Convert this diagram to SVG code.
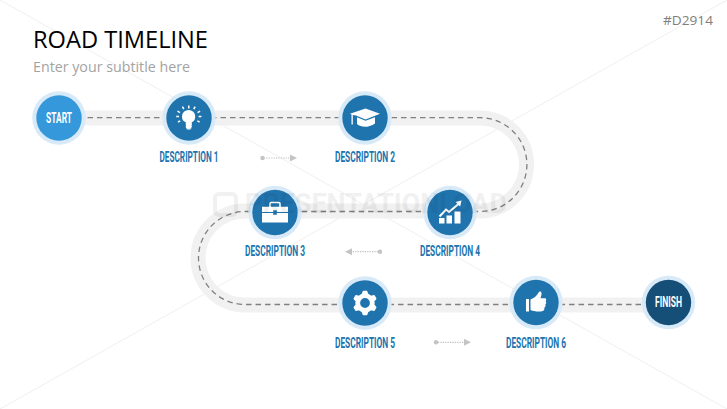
<svg xmlns="http://www.w3.org/2000/svg" width="727" height="409" viewBox="0 0 727 409">
<defs>
<style>
.road{fill:none;stroke:#f1f1f1;stroke-width:15}
.dash{fill:none;stroke:#808080;stroke-width:1.3;stroke-dasharray:5.5 4}
.dots{fill:none;stroke:#bdbdbd;stroke-width:1.2;stroke-dasharray:1.2 1.2}
.ah{fill:#c4c4c4}
.halo{fill:#d8eaf8}
.blue{fill:#2074ae}
.lbl{font-family:"Roboto","Liberation Sans",sans-serif;font-weight:700;font-size:15px;fill:#2074ae;text-anchor:middle}
.cap{font-family:"Roboto","Liberation Sans",sans-serif;font-weight:700;font-size:15px;fill:#fff;text-anchor:middle}
.ico{fill:#fff}
.icl{fill:none;stroke:#fff}
.bg{stroke:#efefef;stroke-width:1;fill:none}
</style>
</defs>
<rect width="727" height="409" fill="#fff"/>
<g id="background-lines">
<line class="bg" x1="0" y1="0" x2="727" y2="409"/>
<line class="bg" x1="0" y1="409" x2="727" y2="0"/>
</g>
<text x="33" y="47.500" font-family="Open Sans, Liberation Sans, sans-serif" font-size="24" fill="#000" textLength="175" lengthAdjust="spacingAndGlyphs">ROAD TIMELINE</text>
<text x="33" y="72" font-family="Open Sans, Liberation Sans, sans-serif" font-size="14.500" fill="#a3a3a3" textLength="157" lengthAdjust="spacingAndGlyphs">Enter your subtitle here</text>
<text x="663" y="25" font-family="Open Sans, Liberation Sans, sans-serif" font-size="13" fill="#7f7f7f" textLength="50" lengthAdjust="spacingAndGlyphs">#D2914</text>
<g id="connectors">
<path class="road" d="M59 118H480A46.500 46.500 0 0 1 480 211H245A47 47 0 0 0 245 305H668"/>
<path class="dash" d="M59 117.700H480A46.500 46.500 0 0 1 480 211.500H245A46.500 46.500 0 0 0 245 304.500H668"/>
<g id="flow-arrow-1"><circle class="ah" cx="262.500" cy="158" r="2.200"/><path class="dots" d="M264 158H291"/><path class="ah" d="M290 154.500L297 158L290 161.500Z"/></g>
<g id="flow-arrow-2"><circle class="ah" cx="380" cy="251.700" r="2.200"/><path class="dots" d="M378 251.700H351"/><path class="ah" d="M352 248.200L345 251.700L352 255.200Z"/></g>
<g id="flow-arrow-3"><circle class="ah" cx="436" cy="342.300" r="2.200"/><path class="dots" d="M438 342.300H465"/><path class="ah" d="M464 338.800L471 342.300L464 345.800Z"/></g>
</g>
<g id="node-start">
<circle class="halo" cx="59" cy="118" r="26.700"/><circle cx="59" cy="118" r="22.700" fill="#3498db"/>
<text class="cap" x="59" y="122.800" textLength="26" lengthAdjust="spacingAndGlyphs">START</text>
</g>
<g id="node-1">
<circle class="halo" cx="189" cy="118" r="26.700"/><circle class="blue" cx="189" cy="118" r="22.700"/>
<g transform="translate(189 118)">
<path class="ico" d="M-3-2.500C-6-4-6.800-5.500-6.800-8.300A6.600 6.600 0 0 1 6.400-8.300C6.400-5.500 5.600-4 3-2.500L2.500 3.800H-2.800Z" transform="translate(-.2 6.800)"/>
<path class="icl" stroke-width="1.200" d="M-3.200 6.200H2.800M-3.200 8.500H2.800M-2 10.800H1.600"/>
<path class="icl" stroke-width="1.500" d="M-.2-12.500V-9.600M-6.500-11.300L-5.200-8.800M6.100-11.300L4.800-8.800M-11.500-6.800L-9-5.400M11.100-6.800L8.600-5.400M-12.800-1.500H-10M12.400-1.500H9.600M-11 4L-8.800 2.800M10.600 4L8.400 2.800"/>
</g>
</g>
<g id="node-2">
<circle class="halo" cx="365" cy="118" r="26.700"/><circle class="blue" cx="365" cy="118" r="22.700"/>
<g transform="translate(365 118)">
<path class="ico" d="M.5-9.500L15-4.300L.5 1.500L-9-2.400L-12.200-3V6.500H-13.500V-3.500L-15-4.300Z"/>
<path class="ico" d="M-8-.8L.5 2.800L10-.8V5.500C7 8 2.500 8.800 0 8.800C-3 8.800-6 7.800-8 6Z"/>
</g>
</g>
<g id="node-3">
<circle class="halo" cx="275" cy="212.500" r="26.700"/><circle class="blue" cx="275" cy="212.500" r="22.700"/>
<g transform="translate(275 212.500)">
<path class="icl" stroke-width="1.500" d="M-5-5.500V-8.700Q-5-10-3.700-10H3.700Q5-10 5-8.700V-5.500"/>
<path class="ico" d="M-13-5.800H13V-.5H1.800V-2.200H-1.800V-.5H-13Z"/>
<path class="ico" d="M-13 .5H-1.800V2.200H1.800V.5H13V10H-13Z"/>
</g>
</g>
<g id="node-4">
<circle class="halo" cx="450" cy="212.500" r="26.700"/><circle class="blue" cx="450" cy="212.500" r="22.700"/>
<g transform="translate(450 212.500)">
<path class="ico" d="M-11 5.500H-5.500V11H-11ZM-3.500 3H2V11H-3.500ZM4.500-1H10.500V11H4.500Z"/>
<path class="icl" stroke-width="2" d="M-10.500 4L-4-3L-1-.5L8.500-8.500"/>
<path class="ico" d="M5.500-10.500L11.500-12L10.200-6Z"/>
</g>
</g>
<g id="node-5">
<circle class="halo" cx="365" cy="303" r="26.700"/><circle class="blue" cx="365" cy="303" r="22.700"/>
<g transform="translate(365 303)">
<circle class="icl" r="7.300" stroke-width="4.800"/>
<g class="ico">
<path id="tooth" d="M-3.400-8.800L-2.400-11.600Q-2.200-12.200-1.600-12.200H1.600Q2.200-12.200 2.400-11.600L3.400-8.800Z"/>
<path d="M-3.400-8.800L-2.400-11.600Q-2.200-12.200-1.600-12.200H1.600Q2.200-12.200 2.400-11.600L3.400-8.800Z" transform="rotate(60)"/>
<path d="M-3.400-8.800L-2.400-11.600Q-2.200-12.200-1.600-12.200H1.600Q2.200-12.200 2.400-11.600L3.400-8.800Z" transform="rotate(120)"/>
<path d="M-3.400-8.800L-2.400-11.600Q-2.200-12.200-1.600-12.200H1.600Q2.200-12.200 2.400-11.600L3.400-8.800Z" transform="rotate(180)"/>
<path d="M-3.400-8.800L-2.400-11.600Q-2.200-12.200-1.600-12.200H1.600Q2.200-12.200 2.400-11.600L3.400-8.800Z" transform="rotate(240)"/>
<path d="M-3.400-8.800L-2.400-11.600Q-2.200-12.200-1.600-12.200H1.600Q2.200-12.200 2.400-11.600L3.400-8.800Z" transform="rotate(300)"/>
</g>
</g>
</g>
<g id="node-6">
<circle class="halo" cx="536" cy="302.500" r="26.700"/><circle class="blue" cx="536" cy="302.500" r="22.700"/>
<g transform="translate(536 302.500)">
<path class="ico" d="M-10-3.500H-7V9H-10Z"/>
<path class="ico" d="M-5.500-3C-2-4.500 .5-6.500 2-9C3-10.800 3.500-11.200 4.500-11C6-10.500 5.800-7.500 4.500-4.200H9C10.500-4.200 10.500-1.500 9.500-1.200C10.500-.5 10.500 1.500 9.300 2C10 3 9.500 4.800 8.300 5C8.800 6.500 8 8 6.800 8.500C3 9.500-2 9-5.500 7.500Z"/>
</g>
</g>
<g id="node-finish">
<circle class="halo" cx="668.500" cy="302.500" r="26.700"/><circle cx="668.500" cy="302.500" r="22.700" fill="#154e76"/>
<text class="cap" x="668.500" y="307.200" textLength="27" lengthAdjust="spacingAndGlyphs">FINISH</text>
</g>
<g id="labels">
<text class="lbl" x="189" y="161.700" textLength="59" lengthAdjust="spacingAndGlyphs">DESCRIPTION 1</text>
<text class="lbl" x="365" y="161.700" textLength="60" lengthAdjust="spacingAndGlyphs">DESCRIPTION 2</text>
<text class="lbl" x="275" y="256" textLength="60" lengthAdjust="spacingAndGlyphs">DESCRIPTION 3</text>
<text class="lbl" x="450" y="256" textLength="60" lengthAdjust="spacingAndGlyphs">DESCRIPTION 4</text>
<text class="lbl" x="365" y="347.500" textLength="60" lengthAdjust="spacingAndGlyphs">DESCRIPTION 5</text>
<text class="lbl" x="536" y="347.500" textLength="60" lengthAdjust="spacingAndGlyphs">DESCRIPTION 6</text>
</g>
<g id="watermark" opacity="0.05">
<rect x="215" y="194" width="21" height="21" rx="4" fill="none" stroke="#000" stroke-width="4"/>
<text x="245" y="213" font-family="Roboto, Liberation Sans, sans-serif" font-weight="700" font-size="27" fill="#000" textLength="262" lengthAdjust="spacingAndGlyphs">PRESENTATIONLOAD</text>
</g>
</svg>
